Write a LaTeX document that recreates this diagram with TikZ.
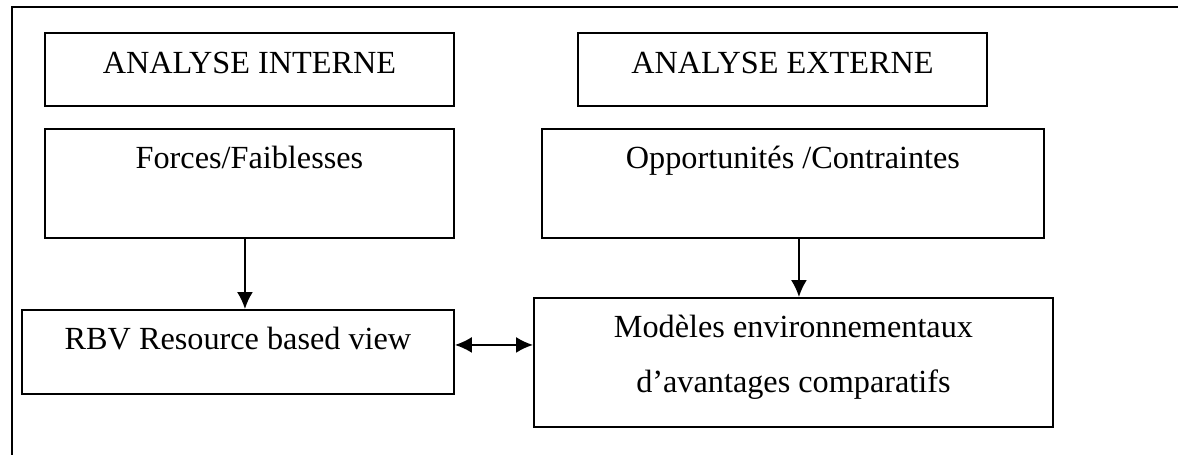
\documentclass[tikz,border=0pt]{standalone}
\usepackage{fontspec}
\setmainfont{Liberation Serif}
\usetikzlibrary{arrows.meta}
\begin{document}
\begin{tikzpicture}[x=0.4pt,y=-0.4pt,
  every node/.style={font=\fontsize{12.9}{22}\selectfont},
  box/.style={draw, line width=0.75pt, inner sep=0pt, anchor=north west},
  arr/.style={line width=0.75pt, -{Latex[length=6.8pt,width=6.4pt]}},
  darr/.style={line width=0.75pt, {Latex[length=6.8pt,width=6.4pt]}-{Latex[length=6.8pt,width=6.4pt]}}]
\useasboundingbox (0,0) rectangle (1178,455);
% outer frame (cropped)
\draw[line width=0.75pt] (1178,7) -- (12,7) -- (12,455);
% boxes
\node[box, minimum width=163.6pt, text height=16.4pt, text depth=12.8pt] (ai) at (44,32) {ANALYSE INTERNE};
\node[box, minimum width=163.6pt, text height=16.4pt, text depth=12.8pt] (ae) at (577,32) {ANALYSE EXTERNE};
\node[box, minimum width=163.6pt, text height=16pt, text depth=27.6pt] (ff) at (44,128) {Forces/Faiblesses};
\node[box, minimum width=200.8pt, text height=16pt, text depth=27.6pt] (oc) at (541,128) {Opportunités /Contraintes};
\node[box, minimum width=172.8pt, text height=16pt, text depth=17.6pt] (rbv) at (21,309) {RBV Resource based view};
\node[box, minimum width=207.6pt, text height=16pt, text depth=35.6pt] (me) at (533,297)
  {\begin{tabular}[t]{@{}c@{}}Modèles environnementaux\\ d’avantages comparatifs\end{tabular}};
% connectors
\draw[arr] ([xshift=-1.8pt]ff.south) -- ([xshift=-1.8pt]ff.south |- rbv.north);
\draw[arr] ([xshift=2.4pt]oc.south) -- ([xshift=2.4pt]oc.south |- me.north);
\draw[darr] ([yshift=2.8pt]rbv.east) -- ([yshift=2.8pt]rbv.east -| me.west);
\end{tikzpicture}
\end{document}
